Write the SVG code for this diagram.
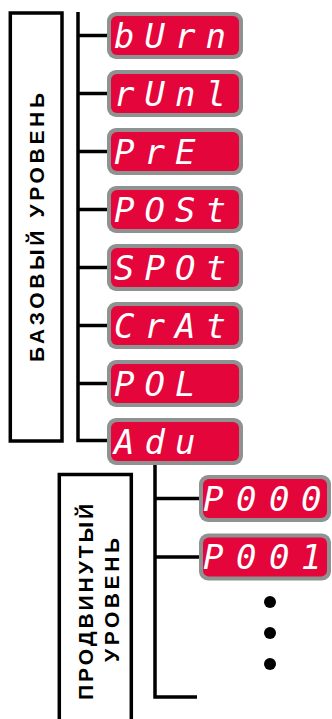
<svg xmlns="http://www.w3.org/2000/svg" width="332" height="719" viewBox="0 0 332 719">
<style>
.frame{fill:none;stroke:#000;stroke-width:3.5}
.lbl{font-family:"Liberation Sans","DejaVu Sans",sans-serif;font-weight:bold;font-size:21px;fill:#000}
.bez{fill:#8e9290}
.scr{fill:#e4053b}
.seg{font-family:"DejaVu Sans Mono","Liberation Mono",monospace;font-style:oblique;font-size:34px;fill:#fff}
.wire{fill:none;stroke:#000;stroke-width:3.5}
</style>
<defs>
<g id="disp">
<rect class="bez" x="0" y="0" width="136" height="47" rx="9"/>
<rect class="scr" x="4" y="4" width="128" height="39" rx="6"/>
</g>
<g id="disp2">
<rect class="bez" x="0" y="0" width="132" height="47" rx="9"/>
<rect class="scr" x="4" y="4" width="124" height="39" rx="6"/>
</g>
</defs>
<g id="connectors">
<path class="wire" d="M78,12 V440.5 H107"/>
<path class="wire" d="M78,35.5 H107 M78,93.5 H107 M78,151.5 H107 M78,209.5 H107 M78,267.5 H107 M78,325.5 H107 M78,383.5 H107"/>
<path class="wire" d="M155,463 V697 H197"/>
<path class="wire" d="M155,498.5 H199 M155,557 H199"/>
</g>
<g id="base-level">
<rect class="frame" x="10.3" y="13" width="51.7" height="428"/>
<text class="lbl" transform="translate(43.5,227.5) rotate(-90)" text-anchor="middle" textLength="269" lengthAdjust="spacing">БАЗОВЫЙ УРОВЕНЬ</text>
</g>
<g id="adv-level">
<rect class="frame" x="59.3" y="474.5" width="72" height="260"/>
<text class="lbl" transform="translate(93,602) rotate(-90)" text-anchor="middle" textLength="196" lengthAdjust="spacing">ПРОДВИНУТЫЙ</text>
<text class="lbl" transform="translate(118.5,600) rotate(-90)" text-anchor="middle" textLength="124" lengthAdjust="spacing">УРОВЕНЬ</text>
</g>
<g id="n-burn" transform="translate(107,12)"><use href="#disp"/><text class="seg" x="7 37.5 68 98.5" y="35.5">bUrn</text></g>
<g id="n-runl" transform="translate(107,70)"><use href="#disp"/><text class="seg" x="7 37.5 68 98.5" y="35.5">rUnl</text></g>
<g id="n-pre" transform="translate(107,128)"><use href="#disp"/><text class="seg" x="7 37.5 68" y="35.5">PrE</text></g>
<g id="n-post" transform="translate(107,186)"><use href="#disp"/><text class="seg" x="7 37.5 68 98.5" y="35.5">POSt</text></g>
<g id="n-spot" transform="translate(107,244)"><use href="#disp"/><text class="seg" x="7 37.5 68 98.5" y="35.5">SPOt</text></g>
<g id="n-crat" transform="translate(107,302)"><use href="#disp"/><text class="seg" x="7 37.5 68 98.5" y="35.5">CrAt</text></g>
<g id="n-pol" transform="translate(107,360)"><use href="#disp"/><text class="seg" x="7 37.5 68" y="35.5">POL</text></g>
<g id="n-adu" transform="translate(107,418)"><use href="#disp"/><text class="seg" x="7 37.5 68" y="35.5">Adu</text></g>
<g id="n-p000" transform="translate(199,475)"><use href="#disp2"/><text class="seg" x="4 37 70 102" y="35.5">P000</text></g>
<g id="n-p001" transform="translate(199,533.5)"><use href="#disp2"/><text class="seg" x="4 37 70 102" y="35.5">P001</text></g>
<g id="ellipsis">
<circle cx="270" cy="602" r="6"/>
<circle cx="270" cy="633" r="6"/>
<circle cx="270" cy="664" r="6"/>
</g>
</svg>
